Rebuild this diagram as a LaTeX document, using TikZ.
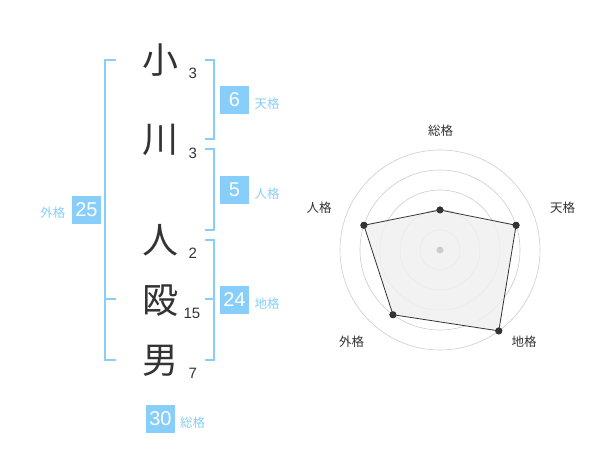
\documentclass[tikz,border=0pt]{standalone}
\usepackage{fontspec}
\newfontfamily\jp{Noto Sans CJK JP}
\newfontfamily\num{Liberation Sans}
\definecolor{lblue}{HTML}{87CEFA}
\definecolor{ink}{HTML}{333333}
\definecolor{ringc}{HTML}{CCCCCC}
\definecolor{polyf}{HTML}{F0F0F0}
\begin{document}
\begin{tikzpicture}[x=1pt,y=-1pt,
  kanji/.style={font=\jp\fontsize{36}{36}\selectfont, text=ink, inner sep=0pt},
  strokes/.style={font=\num\fontsize{15}{15}\selectfont, text=ink, inner sep=0pt},
  valbox/.style={fill=lblue, text=white, minimum width=29pt, minimum height=28pt, inner sep=0pt, font=\num\fontsize{20}{20}\selectfont},
  kaku/.style={font=\jp\fontsize{12.5}{12.5}\selectfont, text=lblue, inner sep=0pt},
  brk/.style={draw=lblue, line width=2pt},
  ring/.style={draw=ringc, line width=0.6pt},
  rlabel/.style={font=\jp\fontsize{12.5}{12.5}\selectfont, text=ink, inner sep=0pt},
  dot/.style={circle, fill=ink, minimum size=7pt, inner sep=0pt},
]
\useasboundingbox (0,0) rectangle (600,470);
% characters
\node[kanji] (c1) at (160,60) {小};
\node[kanji] (c2) at (160,140) {川};
\node[kanji] (c3) at (160,240) {人};
\node[kanji] (c4) at (160,301) {殴};
\node[kanji] (c5) at (160,361) {男};
\node[strokes] (s1) at (192.7,73) {3};
\node[strokes] (s2) at (192.7,153) {3};
\node[strokes] (s3) at (192.7,253) {2};
\node[strokes] (s4) at (192,313) {15};
\node[strokes] (s5) at (192.7,373) {7};
% brackets
\draw[brk] (115.7,60) -- (105,60) -- (105,360) -- (115.7,360);
\draw[brk] (105,299.3) -- (115.7,299.3);
\draw[brk] (205,60) -- (214.3,60) -- (214.3,139.3) -- (205,139.3);
\draw[brk] (205,149.3) -- (214.3,149.3) -- (214.3,230) -- (205,230);
\draw[brk] (205,240) -- (214.3,240) -- (214.3,360) -- (205,360);
\draw[brk] (205,299.3) -- (214.3,299.3);
% value boxes
\node[valbox] (b6) at (234.5,100) {6};
\node[valbox] (b5) at (234.5,190) {5};
\node[valbox] (b24) at (234.5,300) {24};
\node[valbox] (b25) at (86.5,210) {25};
\node[valbox] (b30) at (160.5,419) {30};
\node[kaku, anchor=west] (k1) at (254.3,104) {天格};
\node[kaku, anchor=west] (k2) at (254.3,194) {人格};
\node[kaku, anchor=west] (k3) at (254.3,304) {地格};
\node[kaku, anchor=east] (k4) at (65.5,213) {外格};
\node[kaku, anchor=west] (k5) at (180,423) {総格};
% radar
\coordinate (C) at (440,250);
\foreach \r in {20,40,60,80,100} \draw[ring] (C) circle[radius=\r];
\node[dot] (p1) at ([shift={(-90:40)}]C) {};
\node[dot] (p2) at ([shift={(-18:80)}]C) {};
\node[dot] (p3) at ([shift={(54:100)}]C) {};
\node[dot] (p4) at ([shift={(126:80)}]C) {};
\node[dot] (p5) at ([shift={(198:80)}]C) {};
\fill[polyf, fill opacity=0.85] (p1.center) -- (p2.center) -- (p3.center) -- (p4.center) -- (p5.center) -- cycle;
\draw[ink, line width=0.8pt] (p1.center) -- (p2.center) -- (p3.center) -- (p4.center) -- (p5.center) -- cycle;
\foreach \p in {p1,p2,p3,p4,p5} \fill[ink] (\p) circle[radius=3.5];
\fill[ringc] (C) circle[radius=3.5];
\node[rlabel] (r1) at (440.5,131) {総格};
\node[rlabel] (r2) at (562.5,208) {天格};
\node[rlabel] (r3) at (524,342) {地格};
\node[rlabel] (r4) at (351.7,342) {外格};
\node[rlabel] (r5) at (319,208) {人格};
\end{tikzpicture}
\end{document}
